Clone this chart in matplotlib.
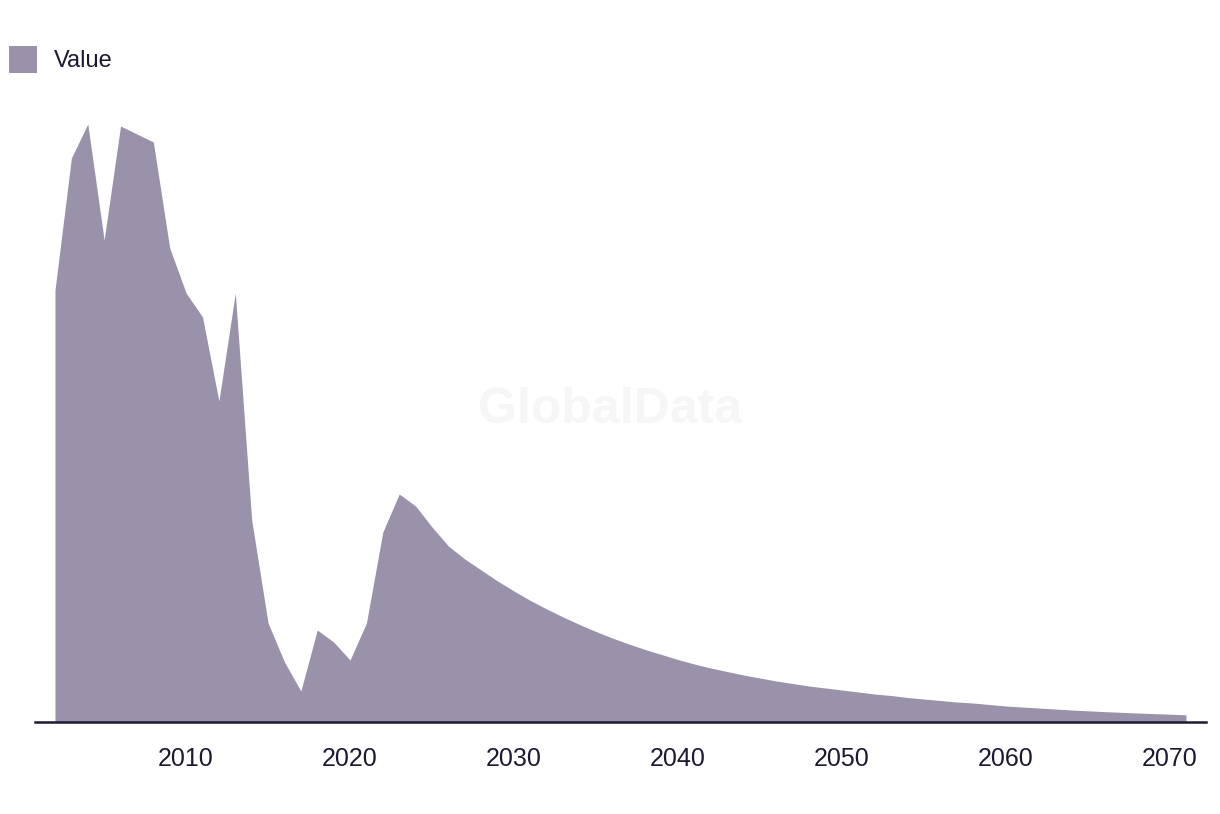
import matplotlib
matplotlib.use("Agg")
import matplotlib.pyplot as plt

years = list(range(2002, 2072))
values = [432, 564, 598, 482, 596, 588, 580, 474, 429, 405,
          321, 429, 202, 99, 60, 31, 92, 80, 62, 99,
          190, 228, 216, 195, 176, 163, 152, 141, 131, 121.5,
          113, 105, 97.5, 90.5, 84, 78, 72.5, 67.5, 62.5, 58,
          54, 50.5, 47, 44, 41, 38.5, 36, 34, 32, 30,
          28, 26.5, 24.5, 23, 21.5, 20, 19, 17.5, 16, 15,
          14, 13, 12, 11.2, 10.4, 9.7, 9, 8.4, 7.8, 7.2]
xticks = [2010, 2020, 2030, 2040, 2050, 2060, 2070]
series_name = "Value"

fill_color = "#9a92aa"
text_color = "#1c1a33"
font = "Liberation Sans"

W, H = 1220, 814
fig = plt.figure(figsize=(W / 100, H / 100), dpi=100)
ax = fig.add_axes([35 / W, (H - 722) / H, (1206 - 35) / W, 622 / H])

ax.fill_between(years, values, 0, color=fill_color, linewidth=0, label=series_name)
ax.set_xlim(2002 - 20 / 16.4, 2071 + 20 / 16.4)
ax.set_ylim(0, 622)

for s in ["top", "right", "left"]:
    ax.spines[s].set_visible(False)
ax.spines["bottom"].set_color(text_color)
ax.spines["bottom"].set_linewidth(1.8)
ax.set_yticks([])
ax.set_xticks(xticks)
ax.set_xticklabels([str(t) for t in xticks], fontfamily=font, fontsize=18, color=text_color)
ax.tick_params(axis="x", length=0, pad=18)

fig.text(610 / W, 1 - 410 / H, "GlobalData", ha="center", va="center",
         fontfamily=font, fontweight="bold", fontsize=36, color="#f6f6f6", zorder=0)

leg = fig.legend(loc="upper left", bbox_to_anchor=(4 / W, 1 - 41 / H),
                 frameon=False, prop={"family": font, "size": 17},
                 handlelength=1.2, handleheight=1.4, handletextpad=0.7,
                 borderpad=0.2, borderaxespad=0)
for t in leg.get_texts():
    t.set_color(text_color)

fig.savefig("out.png", dpi=100)
